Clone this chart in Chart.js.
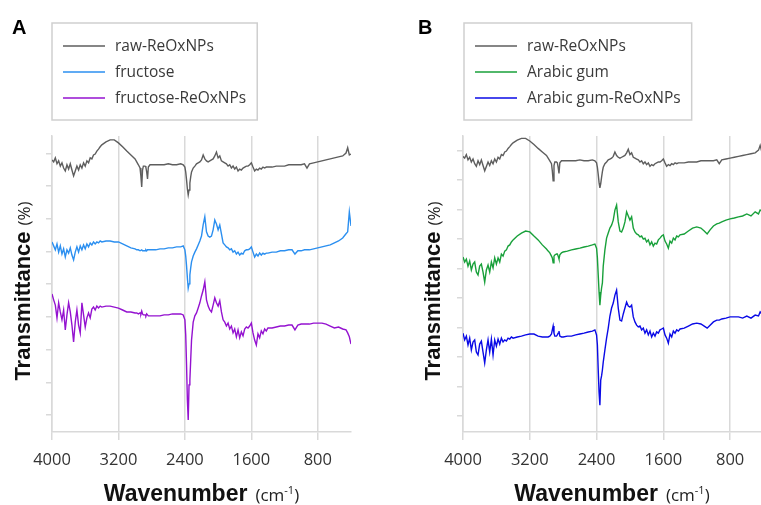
<!DOCTYPE html>
<html>
<head>
<meta charset="utf-8">
<script src="https://cdn.jsdelivr.net/npm/chart.js@4.4.1/dist/chart.umd.min.js"></script>
<style>
  html, body { margin: 0; padding: 0; background: #fff; }
  #wrap { position: relative; width: 761px; height: 505px; overflow: hidden; }
  canvas { position: absolute; top: 0; }
  #panelA { left: 0; }
  #panelB { left: 380px; }
</style>
</head>
<body>
<div id="wrap">
  <canvas id="panelA" width="380" height="505"></canvas>
  <canvas id="panelB" width="381" height="505"></canvas>
</div>
<script>
// FTIR spectra, wavenumber in cm-1 (shared sampling grid), transmittance in stacked arbitrary units
const WAVENUMBERS = [
  4000,3980,3960,3940,3920,3900,3880,3860,3840,3820,3800,3780,3760,3740,3720,3700,3680,3660,3640,3620,3600,3580,3560,3540,3520,3500,3480,3460,3440,3420,3400,
  3350,3300,3250,3200,3150,3100,3050,3000,
  2980,2960,2940,2930,2920,2910,2900,2880,2870,2860,2850,2840,2820,2800,
  2750,2700,2650,2600,2550,2500,2450,2420,2400,
  2390,2380,2370,2360,2350,2340,2330,2320,2300,
  2280,2260,2240,2220,2200,2180,2160,2140,2120,2100,2080,2060,2040,2020,2000,1980,1960,1940,1920,1900,1880,1860,1840,1820,1800,1780,1760,1740,1720,1700,1680,1660,1640,1620,1600,1580,1560,1540,1520,1500,1480,1460,1440,1420,1400,
  1350,1300,1250,1200,1150,1110,1075,1040,1000,960,930,900,850,800,750,700,650,600,550,500,460,440,420,400
];

const RAW_REOXNPS = [
  7.80,7.74,7.86,7.68,7.77,7.61,7.71,7.55,7.46,7.65,7.52,7.68,7.49,7.31,7.46,7.61,7.49,7.65,7.55,7.71,7.61,7.77,7.71,7.86,7.83,7.95,7.98,8.07,8.13,8.20,8.26,
  8.35,8.41,8.41,8.32,8.20,8.07,7.95,7.83,
  7.74,7.65,7.55,7.31,6.97,7.49,7.61,7.61,7.58,7.43,7.22,7.58,7.65,7.65,
  7.65,7.65,7.65,7.68,7.65,7.65,7.68,7.65,7.58,
  7.43,7.19,6.91,6.73,6.88,7.09,7.28,7.43,7.55,
  7.61,7.68,7.71,7.74,7.80,7.95,7.83,7.77,7.74,7.77,7.80,7.83,7.92,8.04,7.86,7.92,7.77,7.74,7.71,7.68,7.61,7.65,7.55,7.61,7.52,7.58,7.46,7.52,7.49,7.55,7.58,7.61,7.61,7.65,7.71,7.58,7.46,7.52,7.49,7.55,7.52,7.58,7.55,7.58,7.58,
  7.58,7.61,7.61,7.61,7.65,7.65,7.65,7.65,7.65,7.68,7.55,7.68,7.71,7.74,7.77,7.80,7.83,7.86,7.89,7.92,8.01,8.17,7.95,7.98
];

const FRUCTOSE = [
  5.29,5.17,5.05,5.23,4.98,5.17,4.92,5.08,4.83,5.05,4.95,5.11,4.89,4.74,4.98,5.14,4.98,5.17,5.05,5.20,5.08,5.23,5.14,5.26,5.20,5.29,5.23,5.29,5.26,5.32,5.29,
  5.32,5.32,5.29,5.29,5.23,5.17,5.11,5.08,
  5.05,5.05,5.02,5.02,5.05,5.02,5.02,5.02,5.05,5.02,5.05,5.05,5.05,5.05,
  5.05,5.08,5.08,5.11,5.11,5.14,5.14,5.17,5.05,
  4.86,4.56,4.19,3.88,4.01,4.28,4.50,4.68,4.86,
  4.98,5.08,5.20,5.32,5.47,5.81,6.06,5.60,5.47,5.44,5.47,5.66,5.96,5.84,5.66,5.81,5.54,5.26,5.20,5.14,5.11,5.05,5.08,4.98,5.02,4.92,4.98,4.89,4.95,4.92,5.02,5.05,5.05,5.08,5.14,4.98,4.83,4.92,4.86,4.95,4.89,4.95,4.92,4.95,4.95,
  4.98,4.98,5.02,5.02,5.05,5.05,4.92,5.02,5.02,5.05,5.05,5.05,5.08,5.11,5.14,5.17,5.20,5.26,5.32,5.41,5.54,5.60,6.21,5.78
];

const FRUCTOSE_REOXNPS = [
  3.70,3.52,3.36,2.97,3.43,3.15,2.91,3.21,2.60,3.06,3.43,3.15,2.75,2.23,2.84,3.21,2.75,2.51,3.43,3.06,2.69,2.97,3.12,2.97,3.24,3.30,3.21,3.33,3.27,3.33,3.30,
  3.33,3.33,3.30,3.27,3.21,3.15,3.15,3.12,
  3.12,3.09,3.12,3.09,3.18,3.09,3.06,3.06,3.03,3.09,3.06,3.03,3.03,3.03,
  3.03,3.03,3.06,3.06,3.09,3.09,3.09,3.06,2.91,
  2.45,1.53,0.46,-0.15,0.92,1.07,1.68,2.29,2.84,
  3.03,3.12,3.27,3.43,3.64,3.82,4.07,3.52,3.33,3.21,3.15,3.36,3.58,3.43,3.33,3.49,3.15,2.91,2.84,2.72,2.81,2.63,2.72,2.51,2.63,2.39,2.60,2.36,2.54,2.42,2.63,2.69,2.66,2.72,2.81,2.51,2.29,2.14,2.48,2.36,2.57,2.48,2.63,2.57,2.66,
  2.66,2.69,2.72,2.72,2.75,2.75,2.60,2.75,2.78,2.78,2.78,2.78,2.81,2.81,2.81,2.78,2.72,2.66,2.69,2.63,2.60,2.51,2.39,2.17
];

const ARABIC_GUM = [
  4.39,4.22,4.32,4.08,4.25,3.95,4.15,4.22,3.88,3.78,4.08,4.15,3.88,3.54,3.95,4.12,3.88,4.22,4.02,4.36,4.15,4.36,4.22,4.49,4.42,4.59,4.63,4.76,4.80,4.90,4.97,
  5.10,5.20,5.27,5.24,5.10,4.97,4.80,4.66,
  4.59,4.53,4.42,4.36,4.19,4.42,4.46,4.49,4.49,4.42,4.32,4.46,4.53,4.56,
  4.59,4.63,4.66,4.69,4.73,4.76,4.80,4.83,4.69,
  4.36,3.78,3.20,2.76,3.10,3.34,3.51,4.08,4.63,
  5.03,5.20,5.37,5.47,5.64,5.98,6.15,5.58,5.27,5.24,5.37,5.58,5.92,5.78,5.64,5.75,5.37,5.24,5.17,5.14,5.07,5.10,5.00,5.03,4.90,4.97,4.80,4.90,4.76,4.86,4.83,4.97,5.03,5.10,5.14,4.93,4.83,4.69,4.93,4.86,5.03,4.97,5.10,5.07,5.14,
  5.17,5.27,5.37,5.41,5.37,5.27,5.17,5.31,5.44,5.51,5.54,5.58,5.64,5.68,5.71,5.75,5.78,5.85,5.78,5.92,5.85,5.98,5.95,5.95
];

const ARABIC_GUM_REOXNPS = [
  1.81,1.58,1.71,1.41,1.64,1.24,1.51,1.58,1.17,1.07,1.44,1.54,1.17,0.80,1.24,1.58,1.17,1.61,1.07,1.58,1.37,1.61,1.44,1.64,1.51,1.58,1.54,1.64,1.61,1.68,1.64,
  1.68,1.71,1.75,1.78,1.78,1.71,1.68,1.68,
  1.68,1.71,1.78,1.92,2.05,1.81,1.71,1.71,1.75,1.81,1.88,1.71,1.68,1.68,
  1.71,1.71,1.75,1.78,1.81,1.85,1.88,1.92,1.75,
  1.41,0.56,-0.19,-0.63,0.22,0.36,0.56,0.83,1.24,
  1.64,1.98,2.39,2.66,2.83,3.10,3.27,2.66,2.25,2.22,2.46,2.66,2.86,2.73,2.69,2.76,2.36,2.19,2.08,2.02,2.05,1.92,1.98,1.81,1.92,1.75,1.88,1.68,1.81,1.71,1.85,1.81,1.92,1.95,1.98,1.75,1.64,1.47,1.78,1.68,1.88,1.81,1.92,1.88,1.95,
  1.98,2.05,2.12,2.15,2.12,2.05,1.98,2.08,2.19,2.25,2.25,2.29,2.32,2.36,2.36,2.36,2.32,2.39,2.32,2.42,2.39,2.53,2.46,2.49
];

const X_TICKS = [4000, 3200, 2400, 1600, 800];
const Y_TICKS_A = [0, 1, 2, 3, 4, 5, 6, 7, 8];
const Y_TICKS_B = [-1, 0, 1, 2, 3, 4, 5, 6, 7, 8];

const LABELS_A = ['raw-ReOxNPs', 'fructose', 'fructose-ReOxNPs'];
const LABELS_B = ['raw-ReOxNPs', 'Arabic gum', 'Arabic gum-ReOxNPs'];

const GRID = '#d9d9d9';
const SANS = '"Open Sans", "Liberation Sans", sans-serif';
const BOLD = '"Liberation Sans", Arial, sans-serif';

function series(label, values, color) {
  return {
    label,
    data: WAVENUMBERS.map((w, i) => ({ x: w, y: values[i] })),
    borderColor: color,
    borderWidth: 1.4,
    pointRadius: 0,
    tension: 0,
    fill: false
  };
}

// panel letter, boxed legend and the two-part axis titles
const panelDecor = {
  id: 'panelDecor',
  afterDraw(chart, args, o) {
    const ctx = chart.ctx;
    const area = chart.chartArea;
    const ds = chart.data.datasets;
    ctx.save();

    ctx.fillStyle = '#000';
    ctx.font = 'bold 20px ' + BOLD;
    ctx.textAlign = 'left';
    ctx.textBaseline = 'alphabetic';
    ctx.fillText(o.letter, o.letterX, 34);

    ctx.font = '15.5px ' + SANS;
    let maxW = 0;
    ds.forEach(d => { maxW = Math.max(maxW, ctx.measureText(d.label).width); });
    const bx = o.legendX, by = 23;
    const bw = 63 + maxW + 11, bh = 97;
    ctx.strokeStyle = '#cfcfcf';
    ctx.lineWidth = 1.5;
    ctx.strokeRect(bx, by, bw, bh);
    ds.forEach((d, i) => {
      const ry = by + 23 + i * 26;
      ctx.strokeStyle = d.borderColor;
      ctx.lineWidth = 1.4;
      ctx.beginPath();
      ctx.moveTo(bx + 11, ry);
      ctx.lineTo(bx + 53, ry);
      ctx.stroke();
      ctx.fillStyle = '#3a3a3a';
      ctx.textBaseline = 'middle';
      ctx.fillText(d.label, bx + 63, ry + 1);
    });

    // x title
    ctx.textBaseline = 'alphabetic';
    const cx = (area.left + area.right) / 2;
    ctx.font = 'bold 23px ' + BOLD;
    const w1 = ctx.measureText('Wavenumber').width;
    ctx.font = '17px ' + SANS;
    const wa = ctx.measureText('(cm').width;
    ctx.font = '11px ' + SANS;
    const wb = ctx.measureText('-1').width;
    ctx.font = '17px ' + SANS;
    const wc = ctx.measureText(')').width;
    const gap = 8;
    let x0 = cx - (w1 + gap + wa + wb + wc) / 2;
    const yb = 501;
    ctx.fillStyle = '#111';
    ctx.font = 'bold 23px ' + BOLD;
    ctx.fillText('Wavenumber', x0, yb);
    x0 += w1 + gap;
    ctx.fillStyle = '#222';
    ctx.font = '17px ' + SANS;
    ctx.fillText('(cm', x0, yb);
    x0 += wa;
    ctx.font = '11px ' + SANS;
    ctx.fillText('-1', x0, yb - 7);
    x0 += wb;
    ctx.font = '17px ' + SANS;
    ctx.fillText(')', x0, yb);

    // y title, rotated
    ctx.translate(o.yTitleX, o.yTitleY);
    ctx.rotate(-Math.PI / 2);
    ctx.font = 'bold 22px ' + BOLD;
    const t1 = ctx.measureText('Transmittance').width;
    ctx.font = '17px ' + SANS;
    const t2 = ctx.measureText('(%)').width;
    const tg = 6;
    let s = -(t1 + tg + t2) / 2;
    ctx.fillStyle = '#111';
    ctx.font = 'bold 22px ' + BOLD;
    ctx.fillText('Transmittance', s, 0);
    s += t1 + tg;
    ctx.fillStyle = '#222';
    ctx.font = '17px ' + SANS;
    ctx.fillText('(%)', s, 0);

    ctx.restore();
  }
};

function makeChart(id, datasets, cfg) {
  return new Chart(document.getElementById(id), {
    type: 'line',
    data: { datasets },
    options: {
      responsive: false,
      animation: false,
      devicePixelRatio: 1,
      layout: { padding: { left: 0, top: 136, right: cfg.padRight, bottom: 0 } },
      plugins: {
        legend: { display: false },
        tooltip: { enabled: false },
        panelDecor: cfg.decor
      },
      scales: {
        x: {
          type: 'linear',
          reverse: true,
          min: cfg.xMin,
          max: 4000,
          afterBuildTicks: s => { s.ticks = X_TICKS.slice().sort((a, b) => a - b).map(v => ({ value: v })); },
          afterFit: s => { s.height = 73; },
          grid: { color: GRID, lineWidth: 1.5, drawTicks: true, tickLength: 8 },
          border: { color: GRID, width: 1.5 },
          ticks: {
            color: '#333',
            font: { family: SANS, size: 16.5 },
            padding: 10,
            maxRotation: 0,
            autoSkip: false,
            callback: v => String(v)
          }
        },
        y: {
          type: 'linear',
          min: cfg.yMin,
          max: cfg.yMax,
          afterBuildTicks: s => { s.ticks = cfg.yTicks.map(v => ({ value: v })); },
          afterFit: s => { s.width = cfg.yWidth; },
          grid: { color: GRID, lineWidth: 1.5, drawOnChartArea: false, drawTicks: true, tickLength: 6 },
          border: { color: GRID, width: 1.5 },
          ticks: { display: false }
        }
      }
    },
    plugins: [panelDecor]
  });
}

makeChart('panelA', [
  series(LABELS_A[0], RAW_REOXNPS, '#5e5e5e'),
  series(LABELS_A[1], FRUCTOSE, '#2b8ff0'),
  series(LABELS_A[2], FRUCTOSE_REOXNPS, '#9412d0')
], {
  xMin: 400, yMin: -0.52, yMax: 8.53, yTicks: Y_TICKS_A, yWidth: 52, padRight: 29,
  decor: { letter: 'A', letterX: 12, legendX: 52, yTitleX: 30, yTitleY: 291 }
});

makeChart('panelB', [
  series(LABELS_B[0], RAW_REOXNPS, '#5e5e5e'),
  series(LABELS_B[1], ARABIC_GUM, '#18a03a'),
  series(LABELS_B[2], ARABIC_GUM_REOXNPS, '#0a0ae6')
], {
  xMin: 430, yMin: -1.54, yMax: 8.49, yTicks: Y_TICKS_B, yWidth: 83, padRight: 0,
  decor: { letter: 'B', letterX: 38, legendX: 84, yTitleX: 60, yTitleY: 291 }
});
</script>
</body>
</html>
